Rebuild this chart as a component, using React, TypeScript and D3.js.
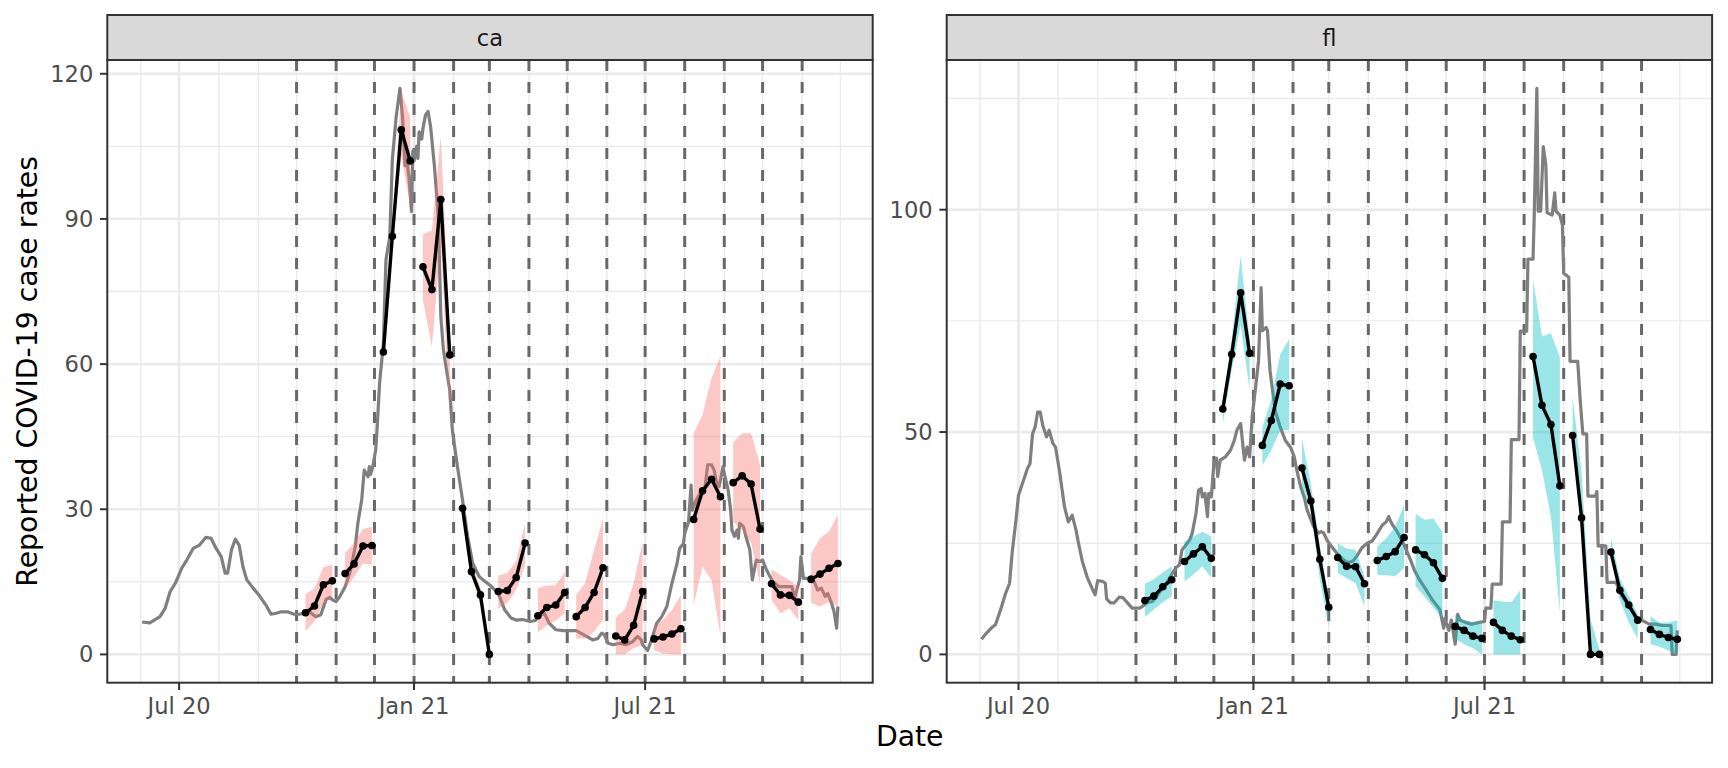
import * as d3 from 'd3';

// ---- data ----
const geoLabels = ['ca', 'fl'];
const forecastDates = [
  '2020-10-01', '2020-11-01', '2020-12-01', '2021-01-01', '2021-02-01', '2021-03-01', '2021-04-01',
  '2021-05-01', '2021-06-01', '2021-07-01', '2021-08-01', '2021-09-01', '2021-10-01', '2021-11-01',
];
const aheadDays = [7, 14, 21, 28];
const dateTicks = ['2020-07-01', '2021-01-01', '2021-07-01'];
const caTicks = [0, 30, 60, 90, 120];
const flTicks = [0, 50, 100];

const caObserved: [string, number][] = [
  ['2020-06-02', 6.7], ['2020-06-08', 6.5], ['2020-06-16', 7.8], ['2020-06-20', 9.5], ['2020-06-24', 13.0],
  ['2020-06-28', 14.7], ['2020-07-03', 17.8], ['2020-07-07', 19.5], ['2020-07-12', 21.9], ['2020-07-17', 22.6],
  ['2020-07-22', 24.2], ['2020-07-26', 24.0], ['2020-07-30', 21.9], ['2020-08-03', 20.2], ['2020-08-06', 16.8],
  ['2020-08-08', 16.8], ['2020-08-11', 21.6], ['2020-08-14', 23.8], ['2020-08-17', 22.6], ['2020-08-20', 18.1],
  ['2020-08-23', 15.4], ['2020-08-28', 13.7], ['2020-09-02', 12.1], ['2020-09-07', 10.2], ['2020-09-11', 8.3],
  ['2020-09-15', 8.5], ['2020-09-19', 8.8], ['2020-09-24', 8.8], ['2020-09-29', 8.3], ['2020-10-03', 8.3],
  ['2020-10-07', 8.5], ['2020-10-11', 8.8], ['2020-10-16', 7.8], ['2020-10-20', 8.2], ['2020-10-24', 11.3],
  ['2020-10-27', 11.8], ['2020-10-29', 11.3], ['2020-11-01', 10.9], ['2020-11-04', 12.0], ['2020-11-08', 14.0],
  ['2020-11-12', 17.1], ['2020-11-16', 22.3], ['2020-11-18', 27.1], ['2020-11-21', 31.9], ['2020-11-23', 38.1],
  ['2020-11-26', 36.7], ['2020-11-27', 38.8], ['2020-11-28', 37.2], ['2020-11-30', 39.2], ['2020-12-02', 42.3],
  ['2020-12-03', 46.4], ['2020-12-05', 56.0], ['2020-12-08', 64.3], ['2020-12-10', 81.5], ['2020-12-13', 86.3],
  ['2020-12-15', 102.2], ['2020-12-18', 111.1], ['2020-12-21', 117.0], ['2020-12-23', 111.0], ['2020-12-25', 101.0],
  ['2020-12-26', 103.0], ['2020-12-28', 98.7], ['2020-12-30', 91.5], ['2020-12-31', 104.0], ['2021-01-01', 102.0],
  ['2021-01-03', 105.0], ['2021-01-04', 102.5], ['2021-01-05', 108.0], ['2021-01-07', 106.5], ['2021-01-08', 108.7],
  ['2021-01-10', 111.5], ['2021-01-12', 112.2], ['2021-01-14', 109.0], ['2021-01-17', 100.8], ['2021-01-20', 90.5],
  ['2021-01-22', 69.8], ['2021-01-24', 63.0], ['2021-01-26', 59.5], ['2021-01-29', 54.6], ['2021-01-31', 46.4],
  ['2021-02-04', 38.8], ['2021-02-08', 31.9], ['2021-02-12', 24.3], ['2021-02-16', 18.8], ['2021-02-21', 16.1],
  ['2021-02-24', 15.4], ['2021-03-01', 14.4], ['2021-03-08', 12.6], ['2021-03-13', 9.2], ['2021-03-18', 7.5],
  ['2021-03-22', 7.1], ['2021-03-27', 7.2], ['2021-04-02', 6.8], ['2021-04-06', 7.0], ['2021-04-09', 8.0],
  ['2021-04-13', 8.5], ['2021-04-17', 6.4], ['2021-04-22', 5.1], ['2021-04-28', 4.9], ['2021-05-03', 4.9],
  ['2021-05-08', 4.9], ['2021-05-13', 4.2], ['2021-05-21', 3.0], ['2021-05-25', 3.3], ['2021-05-28', 4.4],
  ['2021-05-30', 4.1], ['2021-06-02', 2.3], ['2021-06-06', 2.0], ['2021-06-11', 2.3], ['2021-06-16', 2.0],
  ['2021-06-21', 2.6], ['2021-06-25', 3.7], ['2021-06-28', 3.0], ['2021-06-29', 2.0], ['2021-07-03', 0.8],
  ['2021-07-06', 3.0], ['2021-07-10', 6.4], ['2021-07-14', 7.8], ['2021-07-18', 9.9], ['2021-07-22', 14.7],
  ['2021-07-23', 15.7], ['2021-07-26', 18.8], ['2021-07-28', 21.9], ['2021-07-31', 22.9], ['2021-08-01', 25.0],
  ['2021-08-04', 27.4], ['2021-08-06', 35.0], ['2021-08-07', 29.8], ['2021-08-10', 31.9], ['2021-08-13', 33.3],
  ['2021-08-17', 34.7], ['2021-08-19', 39.2], ['2021-08-22', 39.2], ['2021-08-24', 38.1], ['2021-08-26', 35.4],
  ['2021-08-28', 34.7], ['2021-08-31', 38.8], ['2021-09-01', 37.4], ['2021-09-04', 34.0], ['2021-09-06', 29.8],
  ['2021-09-07', 25.7], ['2021-09-09', 24.4], ['2021-09-11', 25.7], ['2021-09-12', 24.0], ['2021-09-13', 27.1],
  ['2021-09-16', 26.4], ['2021-09-18', 24.3], ['2021-09-21', 21.6], ['2021-09-23', 15.4], ['2021-09-26', 19.5],
  ['2021-09-29', 19.2], ['2021-10-01', 19.5], ['2021-10-04', 17.5], ['2021-10-09', 15.0], ['2021-10-14', 14.0],
  ['2021-10-20', 14.0], ['2021-10-24', 14.0], ['2021-10-26', 11.6], ['2021-10-30', 15.4], ['2021-10-31', 20.2],
  ['2021-11-02', 15.7], ['2021-11-06', 15.7], ['2021-11-08', 16.1], ['2021-11-11', 14.7], ['2021-11-13', 13.3],
  ['2021-11-16', 13.7], ['2021-11-19', 12.0], ['2021-11-21', 12.6], ['2021-11-24', 10.6], ['2021-11-26', 8.8],
  ['2021-11-28', 5.4], ['2021-11-29', 9.9],
];

const flObserved: [string, number][] = [
  ['2020-06-02', 3.4], ['2020-06-05', 4.5], ['2020-06-10', 6.0], ['2020-06-13', 6.7], ['2020-06-17', 10.1],
  ['2020-06-21', 13.8], ['2020-06-24', 16.0], ['2020-06-26', 22.8], ['2020-06-29', 30.2], ['2020-07-01', 35.8],
  ['2020-07-05', 39.2], ['2020-07-08', 41.8], ['2020-07-10', 42.9], ['2020-07-12', 49.6], ['2020-07-14', 51.1],
  ['2020-07-16', 54.5], ['2020-07-18', 54.5], ['2020-07-20', 51.5], ['2020-07-23', 48.9], ['2020-07-25', 50.4],
  ['2020-07-28', 47.4], ['2020-07-30', 46.6], ['2020-08-02', 41.4], ['2020-08-06', 33.2], ['2020-08-09', 29.8],
  ['2020-08-12', 31.3], ['2020-08-15', 28.0], ['2020-08-17', 25.0], ['2020-08-20', 20.9], ['2020-08-24', 17.2],
  ['2020-08-28', 14.6], ['2020-08-30', 13.4], ['2020-09-01', 16.6], ['2020-09-05', 16.4], ['2020-09-07', 16.0],
  ['2020-09-08', 12.5], ['2020-09-11', 11.6], ['2020-09-14', 11.6], ['2020-09-18', 12.9], ['2020-09-21', 12.7],
  ['2020-09-24', 11.7], ['2020-09-28', 10.4], ['2020-10-01', 10.4], ['2020-10-04', 10.4], ['2020-10-06', 10.8],
  ['2020-10-10', 11.7], ['2020-10-14', 11.9], ['2020-10-19', 13.8], ['2020-10-24', 15.7], ['2020-10-28', 17.5],
  ['2020-11-01', 19.4], ['2020-11-04', 20.1], ['2020-11-06', 23.5], ['2020-11-08', 24.2], ['2020-11-12', 25.7],
  ['2020-11-14', 27.2], ['2020-11-17', 31.7], ['2020-11-19', 36.9], ['2020-11-21', 37.3], ['2020-11-22', 35.4],
  ['2020-11-24', 36.2], ['2020-11-26', 31.0], ['2020-11-27', 36.2], ['2020-11-29', 35.4], ['2020-12-01', 42.9],
  ['2020-12-03', 44.1], ['2020-12-04', 40.0], ['2020-12-06', 43.7], ['2020-12-10', 44.4], ['2020-12-14', 45.9],
  ['2020-12-17', 48.1], ['2020-12-19', 50.4], ['2020-12-22', 51.9], ['2020-12-24', 46.3], ['2020-12-25', 43.7],
  ['2020-12-27', 46.6], ['2020-12-29', 44.4], ['2020-12-31', 53.4], ['2021-01-03', 60.8], ['2021-01-05', 66.0],
  ['2021-01-07', 82.5], ['2021-01-08', 72.8], ['2021-01-11', 73.5], ['2021-01-12', 72.8], ['2021-01-14', 63.8],
  ['2021-01-18', 54.8], ['2021-01-22', 51.1], ['2021-01-26', 48.1], ['2021-01-30', 46.6], ['2021-02-02', 44.4],
  ['2021-02-04', 41.4], ['2021-02-07', 37.7], ['2021-02-10', 35.1], ['2021-02-12', 32.5], ['2021-02-15', 30.3],
  ['2021-02-17', 28.8], ['2021-02-21', 27.3], ['2021-02-23', 27.6], ['2021-02-25', 27.3], ['2021-02-28', 25.5],
  ['2021-03-04', 24.0], ['2021-03-08', 22.5], ['2021-03-12', 21.4], ['2021-03-16', 20.6], ['2021-03-20', 21.0],
  ['2021-03-23', 22.1], ['2021-03-27', 24.0], ['2021-03-31', 25.0], ['2021-04-04', 25.5], ['2021-04-08', 27.2],
  ['2021-04-12', 29.1], ['2021-04-15', 29.8], ['2021-04-17', 31.0], ['2021-04-18', 30.2], ['2021-04-20', 29.1],
  ['2021-04-23', 27.9], ['2021-04-27', 25.7], ['2021-04-29', 24.6], ['2021-05-03', 22.0], ['2021-05-07', 19.0],
  ['2021-05-11', 16.8], ['2021-05-16', 14.6], ['2021-05-21', 12.3], ['2021-05-27', 10.1], ['2021-05-30', 5.9],
  ['2021-05-31', 8.1], ['2021-06-03', 5.4], ['2021-06-05', 7.7], ['2021-06-08', 2.3], ['2021-06-10', 9.0],
  ['2021-06-12', 7.7], ['2021-06-16', 7.2], ['2021-06-21', 6.8], ['2021-06-27', 7.2], ['2021-07-01', 7.4],
  ['2021-07-02', 10.4], ['2021-07-06', 10.4], ['2021-07-07', 15.8], ['2021-07-14', 15.8], ['2021-07-15', 29.8],
  ['2021-07-21', 29.8], ['2021-07-22', 48.3], ['2021-07-28', 48.3], ['2021-07-29', 72.7], ['2021-08-03', 72.7],
  ['2021-08-04', 88.9], ['2021-08-08', 88.9], ['2021-08-09', 99.3], ['2021-08-11', 127.3], ['2021-08-12', 99.7],
  ['2021-08-14', 99.7], ['2021-08-16', 114.2], ['2021-08-18', 110.1], ['2021-08-19', 99.3], ['2021-08-23', 98.8],
  ['2021-08-25', 103.8], ['2021-08-26', 99.7], ['2021-08-29', 98.8], ['2021-08-31', 96.6], ['2021-09-01', 85.7],
  ['2021-09-05', 84.8], ['2021-09-06', 65.9], ['2021-09-12', 65.9], ['2021-09-14', 56.9], ['2021-09-16', 49.6],
  ['2021-09-19', 49.6], ['2021-09-20', 35.6], ['2021-09-26', 35.6], ['2021-09-27', 36.6], ['2021-09-28', 24.4],
  ['2021-10-04', 24.4], ['2021-10-05', 16.2], ['2021-10-12', 16.2], ['2021-10-16', 13.5], ['2021-10-28', 8.1],
  ['2021-11-01', 7.7], ['2021-11-07', 6.8], ['2021-11-12', 6.8], ['2021-11-17', 6.5], ['2021-11-24', 6.5],
  ['2021-11-25', 0], ['2021-11-28', 0], ['2021-11-29', 5.4],
];

// one row per forecast date, one column per ahead
const caPredicted = [
  [8.6, 10.0, 14.4, 15.2], [16.7, 18.7, 22.4, 22.5], [62.5, 86.4, 108.4, 102.0], [80.1, 75.4, 94.0, 61.9],
  [30.2, 17.1, 12.3, 0], [13.0, 13.2, 15.9, 23.0], [8.0, 9.7, 10.2, 12.8], [7.8, 9.7, 12.8, 17.9],
  [3.8, 3.0, 6.0, 13.0], [3.2, 3.6, 4.2, 5.3], [27.9, 33.8, 36.2, 32.6], [35.5, 36.9, 35.2, 25.9],
  [14.6, 12.3, 12.2, 10.8], [15.5, 16.6, 17.8, 18.8],
];
const caLower = [
  [4.8, 6.8, 10.5, 11.9], [13.4, 16.0, 18.8, 18.5], [61, 84.5, 103, 93], [73.2, 63.6, 85, 48],
  [29, 16, 10.5, 0], [9.5, 10.6, 13.3, 18.5], [4.5, 6.0, 7.0, 8.5], [3.3, 3.3, 4.7, 7.1],
  [0, 0, 1.3, 2.0], [0.9, 0.2, 0, 0], [10.2, 18.1, 15.4, 4.0], [27.4, 25.7, 23.0, 14.7],
  [11.3, 8.5, 9.5, 7.1], [10.7, 9.9, 10.9, 9.9],
];
const caUpper = [
  [12.5, 13.6, 18.0, 18.6], [21.0, 23.0, 25.9, 26.4], [64, 88.5, 116.4, 111], [86.9, 87.6, 107.1, 66],
  [31.5, 18.5, 13.8, 1.5], [16.3, 16.8, 19.3, 27.1], [13.7, 14.2, 14.3, 17.0], [12.3, 14.7, 21.6, 28.1],
  [7.7, 9.2, 14.7, 23.3], [5.7, 7.1, 9.2, 12.3], [45.7, 49.5, 57.1, 61.5], [43.8, 45.7, 45.7, 39.2],
  [17.6, 16.4, 15.4, 14.0], [20.8, 24.0, 25.4, 28.8],
];

const flPredicted = [
  [12.1, 13.1, 15.2, 16.8], [20.9, 22.6, 24.2, 21.6], [55.2, 67.5, 81.3, 67.7], [47.0, 52.6, 60.8, 60.4],
  [41.9, 34.5, 21.4, 10.6], [21.8, 19.8, 19.7, 15.9], [21.1, 22.0, 23.1, 26.3], [23.5, 22.4, 20.6, 17.1],
  [6.3, 5.4, 4.1, 3.6], [7.2, 5.4, 4.1, 3.3], [67.0, 56.0, 51.7, 37.9], [49.2, 30.7, 0, 0],
  [23.0, 14.4, 11.1, 7.7], [5.6, 4.5, 3.8, 3.4],
];
const flLower = [
  [8.4, 10.1, 11.7, 13.1], [16.4, 18.0, 19.8, 17.2], [52, 64, 74, 59.5], [42.5, 45.9, 50.4, 50.4],
  [36.9, 32.4, 16.8, 6.3], [18.3, 17.2, 16.0, 10.8], [17.9, 17.8, 17.6, 19.4], [15.3, 13.0, 10.5, 8.1],
  [3.6, 2.3, 1.4, 0], [0, 0, 0, 0], [48.7, 41.5, 31.0, 9.5], [48.5, 29.5, 0, 0],
  [22.6, 12.2, 7.2, 3.6], [2.3, 1.8, 0.9, 0],
];
const flUpper = [
  [15.9, 16.9, 18.4, 19.8], [25.5, 26.5, 27.6, 26.5], [57, 71, 89.5, 71], [51.1, 57.4, 67.5, 70.9],
  [48.5, 38.4, 24.3, 12.3], [25.0, 23.8, 23.5, 17.5], [24.2, 26.1, 28.7, 33.6], [31.6, 30.3, 30.5, 27.5],
  [9.0, 7.7, 7.2, 7.4], [12.2, 11.9, 11.7, 14.4], [84.4, 71.5, 72.2, 66.8], [57.8, 41.0, 8.0, 1.0],
  [26.2, 17.1, 13.1, 9.0], [8.6, 7.2, 7.2, 7.7],
];

// ---- layout ----
const WIDTH = 1728;
const HEIGHT = 768;
const FONT = '"DejaVu Sans", Verdana, sans-serif';
const stripTop = 15;
const panelTop = 60;
const panelBottom = 682.7;
const panelLefts = [107.3, 946.7];
const panelWidth = 765.4;
const fills = ['#F8766D', '#00BFC4'];

const parseDate = d3.utcParse('%Y-%m-%d');
const fmtTick = d3.utcFormat('%b %y');

type Fc = { date: Date; value: number; lo: number; hi: number };

function Panel(props: {
  geo: string;
  left: number;
  observed: [string, number][];
  predicted: number[][];
  lower: number[][];
  upper: number[][];
  fill: string;
  yTicks: number[];
}) {
  const { geo, left, observed, predicted, lower, upper, fill, yTicks } = props;
  const right = left + panelWidth;

  const obs = observed.map(([d, v]) => ({ date: parseDate(d)!, value: v }));
  const groups: Fc[][] = forecastDates.map((fd, i) =>
    aheadDays.map((a, j) => ({
      date: d3.utcDay.offset(parseDate(fd)!, a),
      value: predicted[i][j],
      lo: lower[i][j],
      hi: upper[i][j],
    }))
  );
  const allFc = groups.flat();

  // ggplot-style 5% expansion on both axes
  const xs = [...obs.map(d => +d.date), ...allFc.map(d => +d.date)];
  const [x0, x1] = d3.extent(xs) as [number, number];
  const xPad = (x1 - x0) * 0.05;
  const x = d3.scaleUtc().domain([new Date(x0 - xPad), new Date(x1 + xPad)]).range([left, right]);

  const yMin = Math.min(d3.min(obs, d => d.value)!, d3.min(allFc, d => d.lo)!);
  const yMax = Math.max(d3.max(obs, d => d.value)!, d3.max(allFc, d => d.hi)!);
  const yPad = (yMax - yMin) * 0.05;
  const y = d3.scaleLinear().domain([yMin - yPad, yMax + yPad]).range([panelBottom, panelTop]);

  const majorX = dateTicks.map(d => parseDate(d)!);
  const minorX = d3.utcMonth
    .range(x.domain()[0], x.domain()[1])
    .filter(m => !majorX.some(t => +t === +m));
  const step = yTicks[1] - yTicks[0];
  const minorY = yTicks.map(t => t + step / 2).filter(v => v <= y.domain()[1]);

  const obsLine = d3.line<{ date: Date; value: number }>().x(d => x(d.date)).y(d => y(d.value));
  const fcLine = d3.line<Fc>().x(d => x(d.date)).y(d => y(d.value));
  const band = d3.area<Fc>().x(d => x(d.date)).y0(d => y(d.lo)).y1(d => y(d.hi));

  return (
    <g>
      <rect x={left} y={panelTop} width={panelWidth} height={panelBottom - panelTop} fill="#fff" />
      {minorY.map(v => (
        <line key={'my' + v} x1={left} x2={right} y1={y(v)} y2={y(v)} stroke="#EBEBEB" strokeWidth={1.4} />
      ))}
      {minorX.map(m => (
        <line key={'mx' + +m} x1={x(m)} x2={x(m)} y1={panelTop} y2={panelBottom} stroke="#EBEBEB" strokeWidth={1.4} />
      ))}
      {yTicks.map(v => (
        <line key={'gy' + v} x1={left} x2={right} y1={y(v)} y2={y(v)} stroke="#EBEBEB" strokeWidth={2.7} />
      ))}
      {majorX.map(t => (
        <line key={'gx' + +t} x1={x(t)} x2={x(t)} y1={panelTop} y2={panelBottom} stroke="#EBEBEB" strokeWidth={2.7} />
      ))}

      {forecastDates.map(fd => {
        const px = x(parseDate(fd)!);
        return (
          <line key={'fd' + fd} x1={px} x2={px} y1={panelTop} y2={panelBottom}
            stroke="#686868" strokeWidth={3} strokeDasharray="11 11" />
        );
      })}

      <path d={obsLine(obs) ?? ''} fill="none" stroke="#7F7F7F" strokeWidth={3.2} strokeLinejoin="round" />

      {groups.map((g, i) => (
        <path key={'band' + i} d={band(g) ?? ''} fill={fill} fillOpacity={0.4} />
      ))}
      {groups.map((g, i) => (
        <path key={'fc' + i} d={fcLine(g) ?? ''} fill="none" stroke="#000" strokeWidth={3.4} strokeLinejoin="round" />
      ))}
      {allFc.map((d, i) => (
        <circle key={'pt' + i} cx={x(d.date)} cy={y(d.value)} r={3.8} fill="#000" />
      ))}

      <rect x={left} y={panelTop} width={panelWidth} height={panelBottom - panelTop}
        fill="none" stroke="#333333" strokeWidth={2} />

      {/* strip */}
      <rect x={left} y={stripTop} width={panelWidth} height={panelTop - stripTop}
        fill="#D9D9D9" stroke="#333333" strokeWidth={2} />
      <text x={left + panelWidth / 2} y={(stripTop + panelTop) / 2} fill="#1A1A1A" fontSize={22.6}
        textAnchor="middle" dominantBaseline="central" fontFamily={FONT}>{geo}</text>

      {/* y axis */}
      {yTicks.map(v => (
        <g key={'yt' + v}>
          <line x1={left - 7.3} x2={left} y1={y(v)} y2={y(v)} stroke="#333333" strokeWidth={2} />
          <text x={left - 14} y={y(v)} fill="#4D4D4D" fontSize={22.6} textAnchor="end"
            dominantBaseline="central" fontFamily={FONT}>{v}</text>
        </g>
      ))}
      {/* x axis */}
      {majorX.map(t => (
        <g key={'xt' + +t}>
          <line x1={x(t)} x2={x(t)} y1={panelBottom} y2={panelBottom + 7.3} stroke="#333333" strokeWidth={2} />
          <text x={x(t)} y={714} fill="#4D4D4D" fontSize={22.6} textAnchor="middle" fontFamily={FONT}>
            {fmtTick(t)}
          </text>
        </g>
      ))}
    </g>
  );
}

export default function App() {
  return (
    <svg width={WIDTH} height={HEIGHT} viewBox={`0 0 ${WIDTH} ${HEIGHT}`}
      style={{ position: 'absolute', left: 0, top: 0, display: 'block', background: '#fff' }}>
      <rect width={WIDTH} height={HEIGHT} fill="#fff" />
      <Panel geo={geoLabels[0]} left={panelLefts[0]} observed={caObserved} predicted={caPredicted}
        lower={caLower} upper={caUpper} fill={fills[0]} yTicks={caTicks} />
      <Panel geo={geoLabels[1]} left={panelLefts[1]} observed={flObserved} predicted={flPredicted}
        lower={flLower} upper={flUpper} fill={fills[1]} yTicks={flTicks} />
      <text x={(panelLefts[0] + panelLefts[1] + panelWidth) / 2} y={746} fontSize={28.3} textAnchor="middle"
        fontFamily={FONT} fill="#000">Date</text>
      <text transform={`translate(36.7,${(panelTop + panelBottom) / 2}) rotate(-90)`} fontSize={28.3}
        textAnchor="middle" fontFamily={FONT} fill="#000">Reported COVID-19 case rates</text>
    </svg>
  );
}
